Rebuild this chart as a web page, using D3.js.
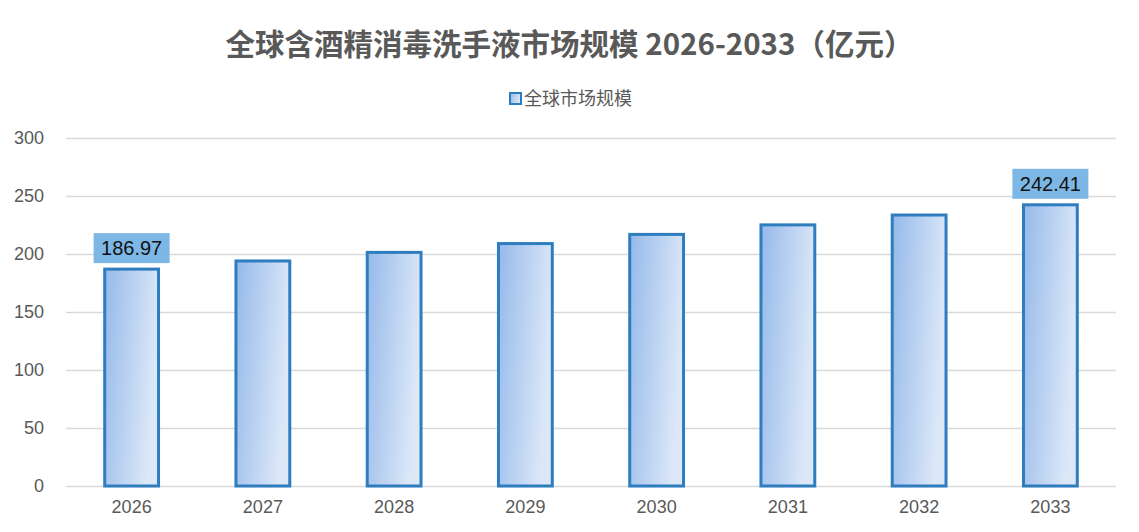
<!DOCTYPE html>
<html>
<head>
<meta charset="utf-8">
<script src="https://cdn.jsdelivr.net/npm/d3@7"></script>
<style>
  body { margin: 0; background: #fff; }
  text { font-family: "Noto Sans CJK SC", "Liberation Sans", Arial, sans-serif; }
</style>
</head>
<body>
<svg id="chart"></svg>
<script>
const years = ['2026', '2027', '2028', '2029', '2030', '2031', '2032', '2033']
const marketSize = [186.97, 194.0, 201.4, 209.0, 216.9, 225.1, 233.6, 242.41]
const yTicks = [0, 50, 100, 150, 200, 250, 300]
const labelled = ['2026', '2033']

const width = 1139
const height = 532
const margin = { top: 138, right: 23, bottom: 46, left: 66 }

const svg = d3.select('#chart')
    .attr('width', width)
    .attr('height', height)

svg.append('rect')
    .attr('width', '100%')
    .attr('height', '100%')
    .style('fill', '#fff')

const grad = svg.append('defs').append('linearGradient')
    .attr('id', 'barFill')
    .attr('x1', '0%').attr('y1', '0%')
    .attr('x2', '100%').attr('y2', '30%')
grad.append('stop').attr('offset', '0%').attr('stop-color', '#95b9ea')
grad.append('stop').attr('offset', '100%').attr('stop-color', '#dce8f8')

const x = d3.scaleBand()
    .domain(years)
    .range([margin.left, width - margin.right])
    .paddingInner(0.59)
    .paddingOuter(0.295)

const y = d3.scaleLinear()
    .domain([0, 300])
    .range([height - margin.bottom, margin.top])

// title
svg.append('text')
    .attr('x', width / 2)
    .attr('y', 55)
    .attr('text-anchor', 'middle')
    .style('font-size', '29.5px')
    .style('font-weight', 'bold')
    .style('fill', '#595959')
    .text('全球含酒精消毒洗手液市场规模 2026-2033（亿元）')

// legend
const legend = svg.append('g').attr('transform', 'translate(510, 99)')
legend.append('rect')
    .attr('x', 0).attr('y', -6)
    .attr('width', 11).attr('height', 11)
    .style('fill', 'url(#barFill)')
    .style('stroke', '#2e7dbf')
    .style('stroke-width', 2)
legend.append('text')
    .attr('x', 14)
    .attr('y', 0)
    .attr('dy', '0.35em')
    .style('font-size', '18px')
    .style('fill', '#595959')
    .text('全球市场规模')

// grid + y axis
const yAxis = d3.axisLeft(y)
    .tickValues(yTicks)
    .tickSize(-(width - margin.left - margin.right))
    .tickPadding(22)

svg.append('g')
    .attr('transform', `translate(${margin.left},0)`)
    .call(yAxis)
    .call(g => g.select('.domain').remove())
    .call(g => g.selectAll('.tick line').style('stroke', '#d9d9d9').style('stroke-width', 1.5))
    .call(g => g.selectAll('.tick text')
        .style('font-size', '18px')
        .style('fill', '#595959')
        .style('font-family', '"Liberation Sans", Arial, sans-serif'))

// x axis
svg.append('g')
    .attr('transform', `translate(0,${height - margin.bottom})`)
    .call(d3.axisBottom(x).tickSize(0).tickPadding(14))
    .call(g => g.select('.domain').remove())
    .call(g => g.selectAll('.tick text')
        .style('font-size', '18px')
        .style('fill', '#595959')
        .style('font-family', '"Liberation Sans", Arial, sans-serif'))

// bars
svg.append('g')
    .selectAll('rect')
    .data(years)
    .join('rect')
    .attr('x', d => x(d))
    .attr('y', (d, i) => y(marketSize[i]))
    .attr('width', x.bandwidth())
    .attr('height', (d, i) => y(0) - y(marketSize[i]))
    .style('fill', 'url(#barFill)')
    .style('stroke', '#2e7dbf')
    .style('stroke-width', 3)

// data labels
const labels = svg.append('g')
    .selectAll('g')
    .data(years.filter(d => labelled.includes(d)))
    .join('g')
    .attr('transform', d => `translate(${x(d) + x.bandwidth() / 2},${y(marketSize[years.indexOf(d)]) - 21})`)

labels.append('rect')
    .attr('x', -38).attr('y', -15)
    .attr('width', 76).attr('height', 30)
    .style('fill', '#7db7e6')

labels.append('text')
    .attr('text-anchor', 'middle')
    .attr('dy', '0.36em')
    .style('font-size', '20px')
    .style('fill', '#111')
    .style('font-family', '"Liberation Sans", Arial, sans-serif')
    .text(d => marketSize[years.indexOf(d)].toFixed(2))
</script>
</body>
</html>
